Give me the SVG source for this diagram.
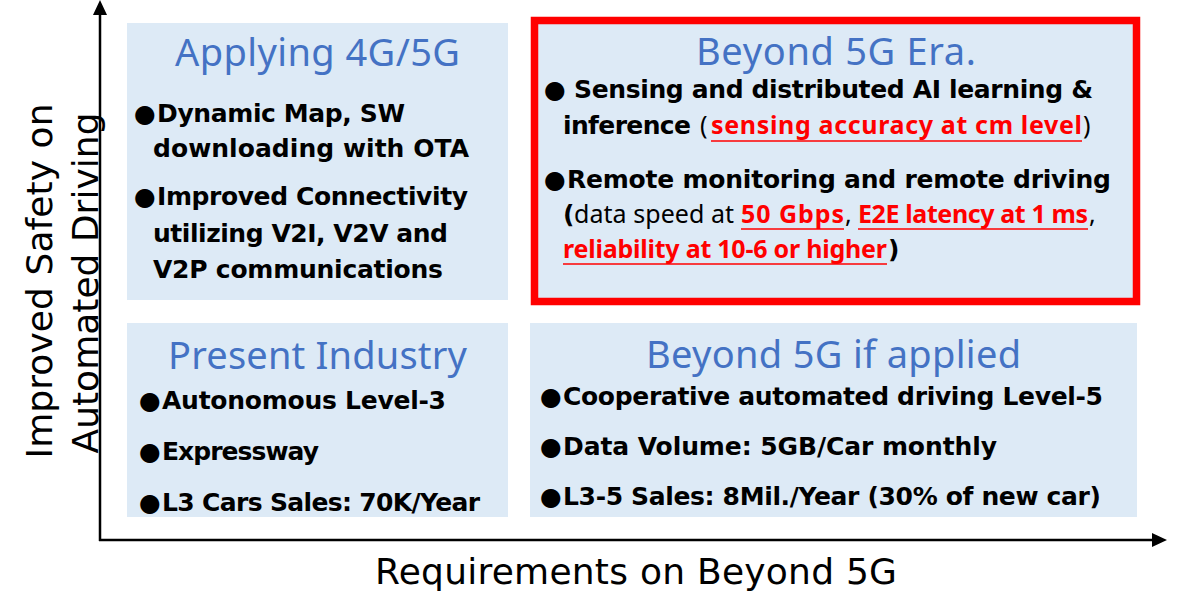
<svg xmlns="http://www.w3.org/2000/svg" width="1178" height="599" viewBox="0 0 1178 599">
  <style>
    .panel { fill: #DDEAF6; }
    .frame { fill: #DDEAF6; stroke: #FF0000; stroke-width: 7.5; }
    .title { font-family: "Noto Sans", "Open Sans", sans-serif; font-size: 38px; fill: #4472C4; }
    .item { font-family: "DejaVu Sans", Verdana, sans-serif; font-size: 25px; font-weight: bold; fill: #000000; }
    .dot { font-family: "DejaVu Sans", sans-serif; font-size: 25px; fill: #000000; }
    .note { font-family: "Noto Sans", "Open Sans", sans-serif; font-size: 25px; fill: #000000; }
    .hot { font-family: "Noto Sans", "Open Sans", sans-serif; font-size: 25px; font-weight: bold; fill: #FF0000; }
    .ul { stroke: #FF0000; stroke-width: 1.6; }
    .axis-label { font-family: "DejaVu Sans", Verdana, sans-serif; font-size: 36px; fill: #000000; }
    .axis { stroke: #000000; stroke-width: 2.5; fill: none; }
  </style>
  <defs>
    <marker id="arrow" viewBox="0 0 15 14" refX="0" refY="7" markerWidth="15" markerHeight="14" markerUnits="userSpaceOnUse" orient="auto">
      <path d="M0,0 L15,7 L0,14 z" fill="#000000"/>
    </marker>
  </defs>

  <rect width="1178" height="599" fill="#FFFFFF"/>

  <!-- axes -->
  <g id="connectors">
    <line class="axis" x1="100" y1="541" x2="100" y2="15" marker-end="url(#arrow)"/>
    <line class="axis" x1="99" y1="540" x2="1152" y2="540" marker-end="url(#arrow)"/>
  </g>

  <!-- axis titles -->
  <g id="axis-y-label">
    <text class="axis-label" text-anchor="middle" transform="translate(52,281) rotate(-90)" textLength="355">Improved Safety on</text>
    <text class="axis-label" text-anchor="middle" transform="translate(98,283) rotate(-90)" textLength="341">Automated Driving</text>
  </g>
  <g id="axis-x-label">
    <text class="axis-label" x="375" y="584" textLength="522">Requirements on Beyond 5G</text>
  </g>

  <!-- upper left quadrant -->
  <g id="applying-4g5g">
    <rect class="panel" x="127" y="23" width="381" height="277"/>
    <text class="title" x="175" y="66" textLength="285">Applying 4G/5G</text>
    <text class="dot" x="134" y="122">●</text>
    <text class="item" x="157" y="122" textLength="248">Dynamic Map, SW</text>
    <text class="item" x="153" y="157" textLength="316">downloading with OTA</text>
    <text class="dot" x="134" y="205">●</text>
    <text class="item" x="157" y="205" textLength="311">Improved Connectivity</text>
    <text class="item" x="153" y="242" textLength="295">utilizing V2I, V2V and</text>
    <text class="item" x="153" y="278" textLength="290">V2P communications</text>
  </g>

  <!-- upper right quadrant, highlighted -->
  <g id="beyond-5g-era">
    <rect class="frame" x="534.5" y="20.5" width="602" height="281"/>
    <text class="title" x="696" y="65" textLength="280">Beyond 5G Era.</text>
    <text class="dot" x="544" y="98">●</text>
    <text class="item" x="574" y="98" textLength="519">Sensing and distributed AI learning &amp;</text>
    <text class="item" x="563" y="134" textLength="128">inference</text>
    <text class="note" x="700" y="134">(</text>
    <text class="hot" x="711" y="134" textLength="371">sensing accuracy at cm level</text>
    <text class="note" x="1083" y="134">)</text>
    <line class="ul" x1="711" y1="141" x2="1082" y2="141"/>
    <text class="dot" x="544" y="188">●</text>
    <text class="item" x="567" y="188" textLength="544">Remote monitoring and remote driving</text>
    <text class="item" x="563" y="223">(</text>
    <text class="note" x="574" y="223" textLength="160">data speed at</text>
    <text class="hot" x="741" y="223" textLength="103">50 Gbps</text>
    <text class="note" x="845" y="223">,</text>
    <text class="hot" x="858" y="223" textLength="230">E2E latency at 1 ms</text>
    <text class="note" x="1089" y="223">,</text>
    <line class="ul" x1="741" y1="229" x2="844" y2="229"/>
    <line class="ul" x1="858" y1="229" x2="1088" y2="229"/>
    <text class="hot" x="563" y="258" textLength="324">reliability at 10-6 or higher</text>
    <text class="item" x="888" y="258">)</text>
    <line class="ul" x1="563" y1="264" x2="887" y2="264"/>
  </g>

  <!-- lower left quadrant -->
  <g id="present-industry">
    <rect class="panel" x="127" y="323" width="381" height="194"/>
    <text class="title" x="168" y="369" textLength="299">Present Industry</text>
    <text class="dot" x="139" y="409">●</text>
    <text class="item" x="162" y="409" textLength="284">Autonomous Level-3</text>
    <text class="dot" x="139" y="460">●</text>
    <text class="item" x="162" y="460" textLength="157">Expressway</text>
    <text class="dot" x="139" y="511">●</text>
    <text class="item" x="162" y="511" textLength="318">L3 Cars Sales: 70K/Year</text>
  </g>

  <!-- lower right quadrant -->
  <g id="beyond-5g-applied">
    <rect class="panel" x="530" y="323" width="607" height="194"/>
    <text class="title" x="646" y="368" textLength="375">Beyond 5G if applied</text>
    <text class="dot" x="540" y="405">●</text>
    <text class="item" x="563" y="405" textLength="540">Cooperative automated driving Level-5</text>
    <text class="dot" x="540" y="455">●</text>
    <text class="item" x="563" y="455" textLength="434">Data Volume: 5GB/Car monthly</text>
    <text class="dot" x="540" y="505">●</text>
    <text class="item" x="563" y="505" textLength="538">L3-5 Sales: 8Mil./Year (30% of new car)</text>
  </g>
</svg>
